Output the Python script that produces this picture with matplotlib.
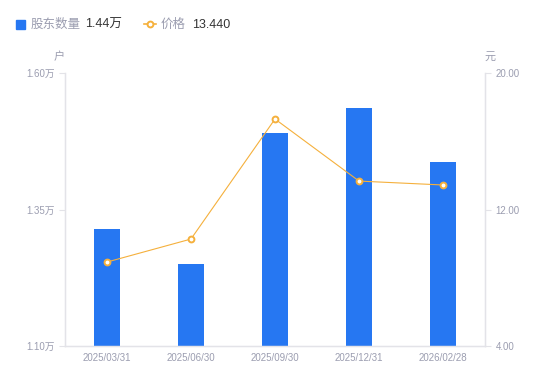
import matplotlib
matplotlib.use("Agg")
import matplotlib.pyplot as plt
from matplotlib.lines import Line2D

plt.rcParams["font.family"] = ["Liberation Sans", "Noto Sans CJK SC", "DejaVu Sans"]

dates = ["2025/03/31", "2025/06/30", "2025/09/30", "2025/12/31", "2026/02/28"]
holders = [1.314, 1.250, 1.490, 1.536, 1.437]  # 万户
prices = [8.92, 10.27, 17.31, 13.67, 13.44]  # 元

left_ticks = [1.10, 1.35, 1.60]
right_ticks = [4.0, 12.0, 20.0]

BLUE = "#2677f2"
ORANGE = "#f5b03c"
GREY = "#9b9db0"
AXIS = "#e3e3e8"

fig = plt.figure(figsize=(5.5, 3.81), dpi=100)
ax = fig.add_axes([0.118, 0.092, 0.764, 0.716])
ax2 = ax.twinx()

x = list(range(len(dates)))
ax.bar(x, holders, width=0.3, color=BLUE, zorder=2)
ax.set_ylim(1.10, 1.60)
ax.set_xlim(-0.5, len(dates) - 0.5)
ax.set_yticks(left_ticks)
ax.set_yticklabels([f"{v:.2f}万" for v in left_ticks])
ax.set_xticks(x)
ax.set_xticklabels(dates)

ax2.plot(x, prices, color=ORANGE, linewidth=0.8, marker="o", markersize=4.2,
         markerfacecolor="white", markeredgecolor=ORANGE, markeredgewidth=1.4,
         zorder=3)
ax2.set_ylim(4, 20)
ax2.set_yticks(right_ticks)
ax2.set_yticklabels([f"{v:.2f}" for v in right_ticks])

for a in (ax, ax2):
    for s in a.spines.values():
        s.set_color(AXIS)
        s.set_linewidth(0.9)
    a.spines["top"].set_visible(False)
    a.tick_params(colors=AXIS, labelcolor=GREY, labelsize=7, length=4, width=0.8)
ax.tick_params(axis="x", length=0, pad=5)

fig.text(59 / 550, 1 - 57 / 381, "户", color=GREY, fontsize=8, ha="center", va="center")
fig.text(490 / 550, 1 - 57 / 381, "元", color=GREY, fontsize=8, ha="center", va="center")

# legend drawn by hand to keep the value next to each name
ly = 1 - 24 / 381
base = ly - 4 / 381
fig.patches.append(plt.Rectangle((16 / 550, ly - 4.5 / 381), 9 / 550, 9 / 381,
                                 transform=fig.transFigure, color=BLUE))
fig.text(31 / 550, base, "股东数量", color=GREY, fontsize=9, va="baseline")
fig.text(85 / 550, base, "1.44万", color="#333333", fontsize=9, va="baseline")
fig.lines.append(Line2D([144 / 550, 150 / 550, 156 / 550], [ly, ly, ly],
                        transform=fig.transFigure, color=ORANGE, linewidth=1.2,
                        marker="o", markersize=4.2, markevery=[1],
                        markerfacecolor="white", markeredgewidth=1.4))
fig.text(161 / 550, base, "价格", color=GREY, fontsize=9, va="baseline")
fig.text(192 / 550, base, "13.440", color="#333333", fontsize=9, va="baseline")

fig.savefig("out.png", dpi=100)
